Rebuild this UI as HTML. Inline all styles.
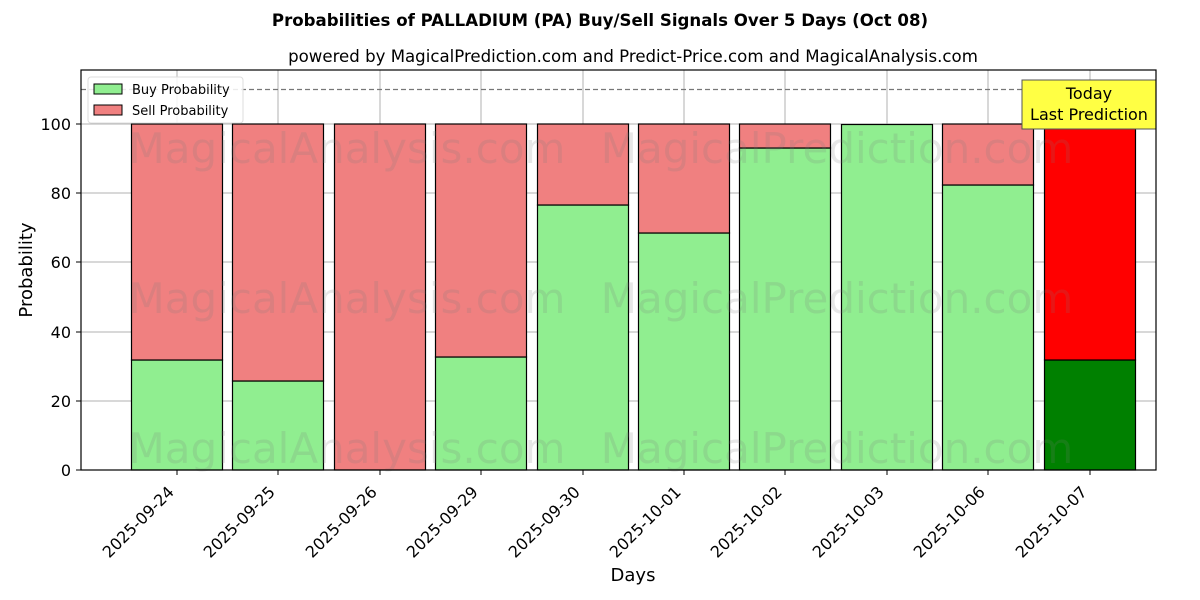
<!DOCTYPE html><html><head><style>body{margin:0;background:#fff}svg{display:block;font-family:"DejaVu Sans","Liberation Sans",sans-serif}</style></head><body>
<svg width="1200" height="600" viewBox="0 0 1200 600">
<text x="600" y="26" text-anchor="middle" font-size="16.6" font-weight="bold">Probabilities of PALLADIUM (PA) Buy/Sell Signals Over 5 Days (Oct 08)</text>
<text x="633" y="62" text-anchor="middle" font-size="16.6">powered by MagicalPrediction.com and Predict-Price.com and MagicalAnalysis.com</text>
<g stroke="#b0b0b0" stroke-width="1">
<line x1="81" x2="1156" y1="470" y2="470"/><line x1="81" x2="1156" y1="401" y2="401"/><line x1="81" x2="1156" y1="332" y2="332"/><line x1="81" x2="1156" y1="262" y2="262"/><line x1="81" x2="1156" y1="193" y2="193"/><line x1="81" x2="1156" y1="124" y2="124"/>
<line x1="177" x2="177" y1="70" y2="470"/><line x1="278" x2="278" y1="70" y2="470"/><line x1="380" x2="380" y1="70" y2="470"/><line x1="481" x2="481" y1="70" y2="470"/><line x1="583" x2="583" y1="70" y2="470"/><line x1="684" x2="684" y1="70" y2="470"/><line x1="785" x2="785" y1="70" y2="470"/><line x1="887" x2="887" y1="70" y2="470"/><line x1="988" x2="988" y1="70" y2="470"/><line x1="1090" x2="1090" y1="70" y2="470"/>
</g>
<g stroke="#000" stroke-width="1.2">
<rect x="131.5" y="360" width="91" height="110" fill="#90ee90"/><rect x="131.5" y="124" width="91" height="236" fill="#f08080"/>
<rect x="232.5" y="381" width="91" height="89" fill="#90ee90"/><rect x="232.5" y="124" width="91" height="257" fill="#f08080"/>
<rect x="334.5" y="124" width="91" height="346" fill="#f08080"/>
<rect x="435.5" y="357" width="91" height="113" fill="#90ee90"/><rect x="435.5" y="124" width="91" height="233" fill="#f08080"/>
<rect x="537.5" y="205" width="91" height="265" fill="#90ee90"/><rect x="537.5" y="124" width="91" height="81" fill="#f08080"/>
<rect x="638.5" y="233" width="91" height="237" fill="#90ee90"/><rect x="638.5" y="124" width="91" height="109" fill="#f08080"/>
<rect x="739.5" y="148" width="91" height="322" fill="#90ee90"/><rect x="739.5" y="124" width="91" height="24" fill="#f08080"/>
<rect x="841.5" y="124.5" width="91" height="345.5" fill="#90ee90"/>
<rect x="942.5" y="185" width="91" height="285" fill="#90ee90"/><rect x="942.5" y="124" width="91" height="61" fill="#f08080"/>
<rect x="1044.5" y="360" width="91" height="110" fill="#008000"/><rect x="1044.5" y="124" width="91" height="236" fill="#ff0000"/>
</g>
<g font-size="42" fill="rgba(120,120,120,0.18)" text-anchor="middle">
<text x="347" y="163">MagicalAnalysis.com</text><text x="837" y="163">MagicalPrediction.com</text>
<text x="347" y="313">MagicalAnalysis.com</text><text x="837" y="313">MagicalPrediction.com</text>
<text x="347" y="463">MagicalAnalysis.com</text><text x="837" y="463">MagicalPrediction.com</text>
</g>
<line x1="81" x2="1156" y1="89.5" y2="89.5" stroke="#777" stroke-width="1.2" stroke-dasharray="5,3"/>
<rect x="1022" y="80" width="134" height="49" fill="#ffff44" stroke="#555" stroke-width="1"/>
<text x="1089" y="99" text-anchor="middle" font-size="16">Today</text>
<text x="1089" y="120" text-anchor="middle" font-size="16">Last Prediction</text>
<rect x="81" y="70" width="1075" height="400" fill="none" stroke="#000" stroke-width="1.2"/>
<rect x="88" y="77" width="155" height="46" rx="3" fill="#fff" fill-opacity="0.85" stroke="#ddd"/>
<rect x="94" y="84" width="28" height="10" fill="#90ee90" stroke="#000"/><text x="132" y="94" font-size="13">Buy Probability</text>
<rect x="94" y="105" width="28" height="10" fill="#f08080" stroke="#000"/><text x="132" y="115" font-size="13">Sell Probability</text>
<g font-size="16" text-anchor="end">
<text x="71" y="476">0</text><text x="71" y="407">20</text><text x="71" y="338">40</text><text x="71" y="268">60</text><text x="71" y="199">80</text><text x="71" y="130">100</text>
</g>
<g stroke="#000"><line x1="76" x2="81" y1="470" y2="470"/><line x1="76" x2="81" y1="401" y2="401"/><line x1="76" x2="81" y1="332" y2="332"/><line x1="76" x2="81" y1="262" y2="262"/><line x1="76" x2="81" y1="193" y2="193"/><line x1="76" x2="81" y1="124" y2="124"/>
<line x1="177" x2="177" y1="470" y2="475"/><line x1="278" x2="278" y1="470" y2="475"/><line x1="380" x2="380" y1="470" y2="475"/><line x1="481" x2="481" y1="470" y2="475"/><line x1="583" x2="583" y1="470" y2="475"/><line x1="684" x2="684" y1="470" y2="475"/><line x1="785" x2="785" y1="470" y2="475"/><line x1="887" x2="887" y1="470" y2="475"/><line x1="988" x2="988" y1="470" y2="475"/><line x1="1090" x2="1090" y1="470" y2="475"/></g>
<g font-size="16" text-anchor="end">
<text transform="translate(175,493) rotate(-45)">2025-09-24</text>
<text transform="translate(276,493) rotate(-45)">2025-09-25</text>
<text transform="translate(378,493) rotate(-45)">2025-09-26</text>
<text transform="translate(479,493) rotate(-45)">2025-09-29</text>
<text transform="translate(581,493) rotate(-45)">2025-09-30</text>
<text transform="translate(682,493) rotate(-45)">2025-10-01</text>
<text transform="translate(783,493) rotate(-45)">2025-10-02</text>
<text transform="translate(885,493) rotate(-45)">2025-10-03</text>
<text transform="translate(986,493) rotate(-45)">2025-10-06</text>
<text transform="translate(1088,493) rotate(-45)">2025-10-07</text>
</g>
<text x="633" y="581" text-anchor="middle" font-size="18">Days</text>
<text transform="translate(32,270) rotate(-90)" text-anchor="middle" font-size="18">Probability</text>
</svg></body></html>
